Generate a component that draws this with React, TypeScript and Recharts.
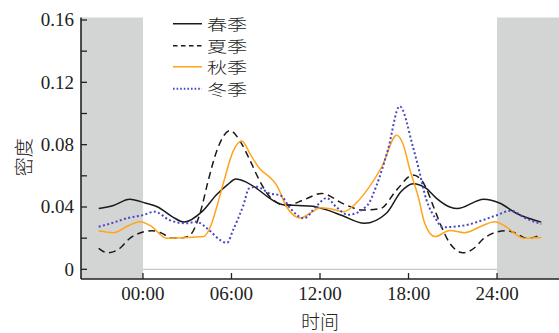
import React from 'react';
import { LineChart, Line, XAxis, YAxis, ReferenceArea, ReferenceLine, Legend } from 'recharts';

// ---- data ----
const xTicks = [0, 6, 12, 18, 24];
const xTickLabels = ['00:00', '06:00', '12:00', '18:00', '24:00'];
const yTicks = [0, 0.02, 0.04, 0.06, 0.08, 0.1, 0.12, 0.14, 0.16];
const yTickLabels = ['0', '', '0.04', '', '0.08', '', '0.12', '', '0.16'];

const springHours = [-3, -2, -0.9, 0.2, 1, 2, 2.8, 4, 5, 5.7, 6.3, 7, 7.7, 8.6, 9.5, 10.5, 11.5, 12.5, 13.5, 15, 16.5, 17.5, 18.3, 19.2, 19.9, 20.8, 21.3, 23.1, 24.2, 25.3, 27];
const springValues = [0.039, 0.041, 0.045, 0.0424, 0.04, 0.0337, 0.0303, 0.037, 0.048, 0.054, 0.058, 0.056, 0.052, 0.0455, 0.0415, 0.041, 0.0405, 0.038, 0.0345, 0.0295, 0.036, 0.05, 0.055, 0.052, 0.0455, 0.04, 0.039, 0.045, 0.0424, 0.036, 0.0303];

const summerHours = [-3, -2.4, -1.5, -1, 0, 0.6, 1.2, 2, 2.8, 3.2, 3.9, 4.4, 5, 5.9, 6.6, 7.25, 7.9, 8.6, 9.7, 11, 12.1, 13.6, 14.9, 16.1, 17.2, 18.3, 18.9, 19.2, 19.7, 20.25, 20.8, 21.7, 22.5, 23, 24, 24.6, 25.2, 26, 26.5, 27];
const summerValues = [0.0135, 0.0106, 0.014, 0.019, 0.024, 0.0248, 0.0235, 0.02, 0.0205, 0.022, 0.037, 0.056, 0.076, 0.089, 0.082, 0.07, 0.057, 0.0465, 0.041, 0.045, 0.0487, 0.042, 0.038, 0.039, 0.051, 0.0605, 0.057, 0.052, 0.04, 0.027, 0.0167, 0.0106, 0.014, 0.019, 0.024, 0.0248, 0.0235, 0.02, 0.0205, 0.0228];

const autumnHours = [-3, -2, -1, -0.2, 0.5, 1.6, 3, 4.1, 4.6, 5, 5.5, 6.1, 6.7, 7.25, 7.9, 8.6, 9.06, 9.74, 10.64, 11.5, 12, 12.6, 13.6, 14.5, 15.2, 16.2, 17.2, 17.65, 18.1, 18.66, 19.1, 19.8, 20.8, 21.8, 23, 23.85, 24.5, 25.8, 27];
const autumnValues = [0.0247, 0.0235, 0.028, 0.0305, 0.028, 0.02, 0.0205, 0.021, 0.028, 0.04, 0.057, 0.0755, 0.0824, 0.0743, 0.0647, 0.059, 0.054, 0.04, 0.033, 0.037, 0.0395, 0.039, 0.037, 0.043, 0.051, 0.066, 0.086, 0.0798, 0.0637, 0.0466, 0.0295, 0.021, 0.025, 0.0235, 0.028, 0.0305, 0.028, 0.02, 0.0205];

const winterHours = [-3, -2, -1, 0, 0.8, 1.8, 2.95, 3.6, 4.5, 5.2, 5.7, 6.1, 6.8, 7.2, 7.7, 8.6, 9.3, 10, 10.9, 11.8, 12.45, 13.1, 13.9, 15.2, 15.8, 16.6, 17.4, 18.3, 18.6, 19.2, 19.9, 20.3, 21.9, 23, 24, 24.9, 26, 27];
const winterValues = [0.0273, 0.03, 0.033, 0.0348, 0.037, 0.0316, 0.0295, 0.0305, 0.025, 0.019, 0.017, 0.025, 0.041, 0.052, 0.053, 0.0487, 0.0476, 0.039, 0.0327, 0.041, 0.0458, 0.04, 0.035, 0.041, 0.053, 0.0765, 0.1047, 0.0786, 0.068, 0.045, 0.0316, 0.027, 0.0284, 0.0315, 0.0348, 0.0376, 0.0325, 0.029];

const toPoints = (hs: number[], vs: number[]) => hs.map((h, i) => ({ h, v: vs[i] }));

const series = [
  { name: '春季', data: toPoints(springHours, springValues), color: '#1a1a1a', dash: undefined as string | undefined, legendDash: undefined as string | undefined, width: 1.5 },
  { name: '夏季', data: toPoints(summerHours, summerValues), color: '#1a1a1a', dash: '7 4.5', legendDash: '4.5 3.5', width: 1.5 },
  { name: '秋季', data: toPoints(autumnHours, autumnValues), color: '#FFA41B', dash: undefined, legendDash: undefined, width: 1.5 },
  { name: '冬季', data: toPoints(winterHours, winterValues), color: '#4848C4', dash: '2 2.4', legendDash: '1.6 2', width: 2 },
];

const SERIF = "'Liberation Serif', 'Times New Roman', serif";
const CJK = "'Noto Sans CJK SC', sans-serif";
const INK = '#222';
const ROW = 21.5;

const XTick = (props: any) => {
  const { x, y, payload } = props;
  const i = xTicks.indexOf(payload.value);
  return (
    <g>
      <line x1={x} y1={y} x2={x} y2={y - 6} stroke={INK} strokeWidth={1.3} />
      <text x={x} y={y + 21} textAnchor="middle" style={{ fontFamily: SERIF, fontSize: 19, fill: INK }}>
        {xTickLabels[i]}
      </text>
    </g>
  );
};

const YTick = (props: any) => {
  const { x, y, payload } = props;
  const i = yTicks.indexOf(payload.value);
  const label = yTickLabels[i];
  return (
    <g>
      <line x1={x} y1={y} x2={x + 6} y2={y} stroke={INK} strokeWidth={1.3} />
      {label ? (
        <text x={x - 7} y={y} dy="0.34em" textAnchor="end" style={{ fontFamily: SERIF, fontSize: 19, fill: INK }}>
          {label}
        </text>
      ) : null}
    </g>
  );
};

const YLabel = (props: any) => {
  const vb = props.viewBox || { x: 0, y: 0, width: 0, height: 0 };
  const cx = vb.x + 22;
  const cy = vb.y + vb.height / 2 + 9;
  return (
    <text x={cx} y={cy} transform={`rotate(-90 ${cx} ${cy})`} textAnchor="middle" dominantBaseline="central" style={{ fontFamily: CJK, fontSize: 19, fill: INK, fontWeight: 300 }}>
      密度
    </text>
  );
};

const LegendBox = () => (
  <div style={{ display: 'flex', flexDirection: 'column' }}>
    {series.map((s) => (
      <div key={s.name} style={{ display: 'flex', alignItems: 'center', height: ROW }}>
        <svg width={29} height={ROW} style={{ display: 'block', marginRight: 5.3 }}>
          <line x1={0} x2={29} y1={ROW / 2} y2={ROW / 2} stroke={s.color} strokeWidth={s.width} strokeDasharray={s.legendDash} />
        </svg>
        <span
          style={{
            fontFamily: CJK,
            fontSize: 14.8,
            color: INK,
            fontWeight: 300,
            lineHeight: `${ROW}px`,
            display: 'inline-block',
            transform: 'scaleX(1.36)',
            transformOrigin: 'left center',
            whiteSpace: 'nowrap',
          }}
        >
          {s.name}
        </span>
      </div>
    ))}
  </div>
);

export default function App() {
  return (
    <div style={{ position: 'absolute', left: 0, top: 0 }}>
      <LineChart width={559} height={333} margin={{ top: 17.5, right: 0, bottom: 0, left: 0 }}>
        <ReferenceArea x1={-4.2} x2={0} fill="#D3D5D4" fillOpacity={1} stroke="none" ifOverflow="extendDomain" />
        <ReferenceArea x1={24} x2={28.2} fill="#D3D5D4" fillOpacity={1} stroke="none" ifOverflow="extendDomain" />
        <ReferenceLine segment={[{ x: 0, y: 0 }, { x: 24, y: 0 }]} stroke="#C8C8C8" strokeWidth={1.2} />
        <XAxis
          dataKey="h"
          type="number"
          domain={[-4.2, 28.2]}
          allowDataOverflow
          ticks={xTicks}
          interval={0}
          height={54}
          tickSize={0}
          tickMargin={0}
          tickLine={false}
          axisLine={{ stroke: INK, strokeWidth: 1.6 }}
          tick={<XTick />}
          label={{ value: '时间', position: 'insideBottom', offset: 4.5, style: { fontFamily: CJK, fontSize: 19, fill: INK, fontWeight: 300 } }}
        />
        <YAxis
          type="number"
          domain={[-0.0062, 0.1616]}
          allowDataOverflow
          ticks={yTicks}
          interval={0}
          width={81}
          tickSize={0}
          tickMargin={0}
          tickLine={false}
          axisLine={{ stroke: INK, strokeWidth: 1.6 }}
          tick={<YTick />}
          label={YLabel}
        />
        {series.map((s) => (
          <Line
            key={s.name}
            data={s.data}
            dataKey="v"
            name={s.name}
            type="monotone"
            stroke={s.color}
            strokeWidth={s.width}
            strokeDasharray={s.dash}
            dot={false}
            activeDot={false}
            isAnimationActive={false}
          />
        ))}
        <Legend
          layout="vertical"
          verticalAlign="middle"
          align="center"
          wrapperStyle={{ left: 172.7, top: 13.3, width: 90, height: ROW * 4 }}
          content={() => <LegendBox />}
        />
      </LineChart>
    </div>
  );
}
